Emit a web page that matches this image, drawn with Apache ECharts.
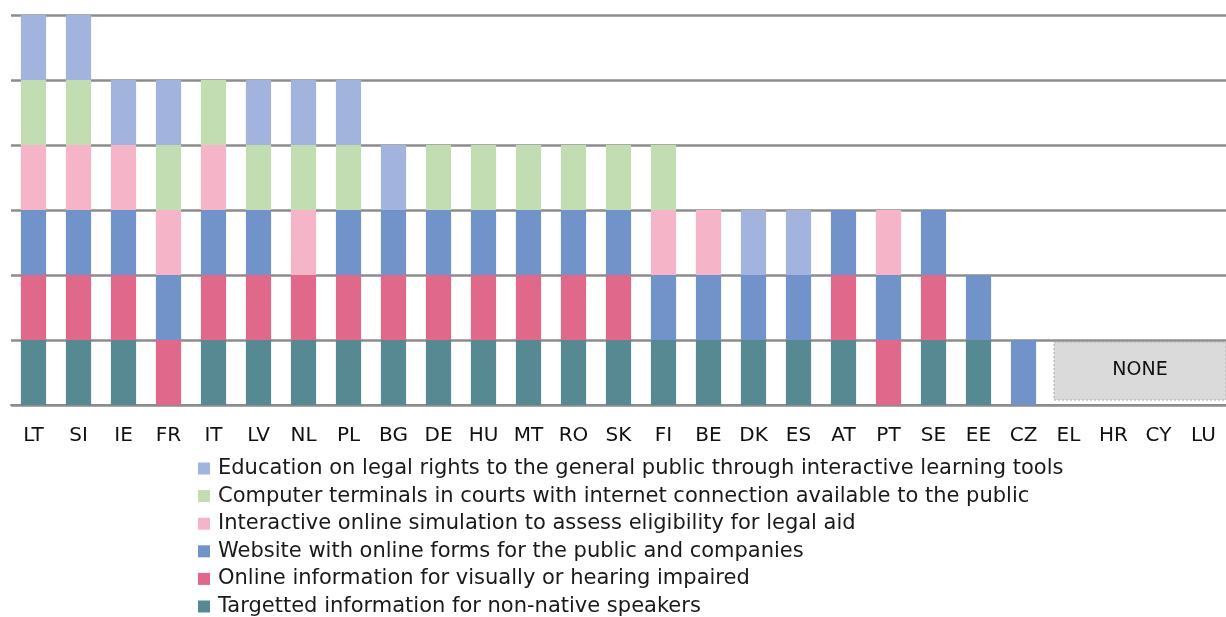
<!DOCTYPE html>
<html>
<head>
<meta charset="utf-8">
<script src="https://cdn.jsdelivr.net/npm/echarts@6/dist/echarts.min.js"></script>
<style>
  html, body {margin: 0; padding: 0; background: #fff;}
  #chart {width: 1226px; height: 617px;}
</style>
</head>
<body>
<div id="chart"></div>
<script>
var countries = ['LT', 'SI', 'IE', 'FR', 'IT', 'LV', 'NL', 'PL', 'BG', 'DE', 'HU', 'MT', 'RO', 'SK', 'FI', 'BE', 'DK', 'ES', 'AT', 'PT', 'SE', 'EE', 'CZ', 'EL', 'HR', 'CY', 'LU'];

// 1 = country offers the tool, 0 = not
var targetted = [1, 1, 1, 0, 1, 1, 1, 1, 1, 1, 1, 1, 1, 1, 1, 1, 1, 1, 1, 0, 1, 1, 0, 0, 0, 0, 0];
var impaired  = [1, 1, 1, 1, 1, 1, 1, 1, 1, 1, 1, 1, 1, 1, 0, 0, 0, 0, 1, 1, 1, 0, 0, 0, 0, 0, 0];
var website   = [1, 1, 1, 1, 1, 1, 0, 1, 1, 1, 1, 1, 1, 1, 1, 1, 1, 1, 1, 1, 1, 1, 1, 0, 0, 0, 0];
var simulation = [1, 1, 1, 1, 1, 0, 1, 0, 0, 0, 0, 0, 0, 0, 1, 1, 0, 0, 0, 1, 0, 0, 0, 0, 0, 0, 0];
var terminals = [1, 1, 0, 1, 1, 1, 1, 1, 0, 1, 1, 1, 1, 1, 1, 0, 0, 0, 0, 0, 0, 0, 0, 0, 0, 0, 0];
var education = [1, 1, 1, 1, 0, 1, 1, 1, 1, 0, 0, 0, 0, 0, 0, 0, 1, 1, 0, 0, 0, 0, 0, 0, 0, 0, 0];

var noneCountries = ['EL', 'HR', 'CY', 'LU'];

var seriesDefs = [
  {name: 'Targetted information for non-native speakers', data: targetted, color: '#568992'},
  {name: 'Online information for visually or hearing impaired', data: impaired, color: '#e0698b'},
  {name: 'Website with online forms for the public and companies', data: website, color: '#7292ca'},
  {name: 'Interactive online simulation to assess eligibility for legal aid', data: simulation, color: '#f5b4c7'},
  {name: 'Computer terminals in courts with internet connection available to the public', data: terminals, color: '#c3ddb3'},
  {name: 'Education on legal rights to the general public through interactive learning tools', data: education, color: '#a2b3dd'}
];

var font = 'DejaVu Sans';
var chart = echarts.init(document.getElementById('chart'));

chart.setOption({
  animation: false,
  textStyle: {fontFamily: font},
  grid: {left: 11, right: -3, top: 15, bottom: 212},
  legend: {
    orient: 'vertical',
    left: 193,
    top: 453,
    height: 300,
    itemWidth: 12,
    itemHeight: 12,
    itemGap: 6.6,
    icon: 'rect',
    textStyle: {fontSize: 21, color: '#1a1a1a', fontFamily: font, padding: [0, 0, 0, 3]},
    data: seriesDefs.map(function (s) { return s.name; }).reverse()
  },
  xAxis: {
    type: 'category',
    data: countries,
    axisLine: {lineStyle: {color: '#8c8c8c', width: 2}},
    axisTick: {length: 7, lineStyle: {color: '#8c8c8c', width: 2}},
    axisLabel: {fontSize: 20, color: '#111', margin: 21, fontFamily: font}
  },
  yAxis: {
    type: 'value',
    min: 0,
    max: 6,
    interval: 1,
    axisLabel: {show: false},
    axisLine: {show: false},
    axisTick: {show: false},
    splitLine: {lineStyle: {color: '#8c8c8c', width: 2.5}}
  },
  series: seriesDefs.map(function (s) {
    return {
      name: s.name,
      type: 'bar',
      stack: 'total',
      barWidth: '56%',
      data: s.data.map(function (v) { return v ? v : '-'; }),
      itemStyle: {color: s.color}
    };
  })
});

// "NONE" box over the countries with no tools
var c0 = chart.convertToPixel({xAxisIndex: 0}, noneCountries[0]);
var c1 = chart.convertToPixel({xAxisIndex: 0}, noneCountries[1]);
var band = c1 - c0;
var yTop = chart.convertToPixel({yAxisIndex: 0}, 1);
var yBase = chart.convertToPixel({yAxisIndex: 0}, 0);
var x0 = c0 - band / 2 + 8;
var x1 = chart.convertToPixel({xAxisIndex: 0}, noneCountries[noneCountries.length - 1]) + band / 2;
chart.setOption({
  graphic: [{
    type: 'group',
    children: [{
      type: 'rect',
      shape: {x: x0, y: yTop + 2, width: x1 - x0, height: yBase - yTop - 7},
      style: {fill: '#dadada', stroke: '#a8a8a8', lineWidth: 1, lineDash: [2, 2]}
    }, {
      type: 'text',
      x: (x0 + 1226) / 2,
      y: yTop + (yBase - yTop) / 2 - 2,
      style: {text: 'NONE', fontSize: 19, fill: '#111', align: 'center', verticalAlign: 'middle', fontFamily: font}
    }]
  }]
});
</script>
</body>
</html>
